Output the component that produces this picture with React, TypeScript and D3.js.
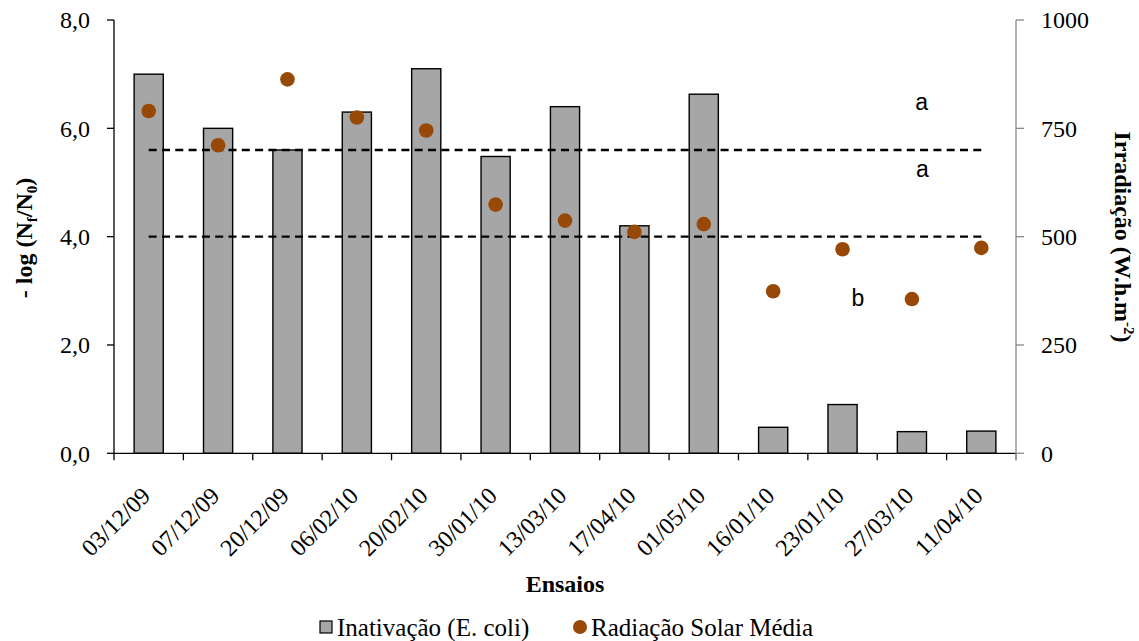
import React from 'react';
import * as d3 from 'd3';

// Trial dates (x categories)
const categories = [
  '03/12/09', '07/12/09', '20/12/09', '06/02/10', '20/02/10', '30/01/10', '13/03/10',
  '17/04/10', '01/05/10', '16/01/10', '23/01/10', '27/03/10', '11/04/10',
];
// E. coli inactivation, -log(Nf/N0)
const inactivation = [7.0, 6.0, 5.6, 6.3, 7.1, 5.48, 6.4, 4.2, 6.63, 0.48, 0.9, 0.4, 0.41];
// Mean solar irradiation, W.h.m-2
const radiation = [790, 711, 863, 775, 745, 574, 537, 511, 529, 374, 471, 356, 474];

const leftTicks = [0, 2, 4, 6, 8];
const rightTicks = [0, 250, 500, 750, 1000];

// Group boundaries (dashed lines, left-axis units) and group letters
const groupLimits = [5.6, 4.0];
const groupLetters = ['a', 'a', 'b'];
const groupLetterIndex = [11.14, 11.15, 10.22];
const groupLetterLevel = [6.34, 5.1, 2.72];

const W = 1139;
const H = 641;
const M = { left: 114, right: 1016, top: 20, bottom: 453.3 };

const serifStyle = { fontFamily: "'Liberation Serif', 'DejaVu Serif', 'Times New Roman', serif" };
const sansStyle = { fontFamily: "'Liberation Sans', Arial, sans-serif" };
const BAR = '#a6a6a6';
const DOT = '#984807';
const GREY_AXIS = '#898989';

const comma = d3.formatLocale({ decimal: ',', thousands: '.', grouping: [3], currency: ['', ''] }).format('.1f');

export default function App() {
  const x = d3.scaleBand<string>().domain(categories).range([M.left, M.right]).paddingInner(0.58).paddingOuter(0.29);
  const step = x.step();
  const center = (i: number) => M.left + (i + 0.5) * step;
  const yL = d3.scaleLinear().domain([0, 8]).range([M.bottom, M.top]);
  const yR = d3.scaleLinear().domain([0, 1000]).range([M.bottom, M.top]);

  const boundaries = d3.range(categories.length + 1).map((i) => M.left + i * step);
  const dashX0 = center(0);
  const dashX1 = center(categories.length - 1);

  return (
    <svg width={W} height={H} style={{ position: 'absolute', left: 0, top: 0, background: '#fff' }}>
      {/* bars */}
      {categories.map((c, i) => (
        <rect
          key={c}
          x={x(c)}
          y={yL(inactivation[i])}
          width={x.bandwidth()}
          height={yL(0) - yL(inactivation[i])}
          fill={BAR}
          stroke="#000"
          strokeWidth={1.4}
        />
      ))}

      {/* group limit lines */}
      {groupLimits.map((v) => (
        <line key={v} x1={dashX0} x2={dashX1} y1={yL(v)} y2={yL(v)} stroke="#000" strokeWidth={2.4} strokeDasharray="8 5.3" />
      ))}

      {/* radiation points */}
      {categories.map((c, i) => (
        <circle key={c} cx={center(i)} cy={yR(radiation[i])} r={7.3} fill={DOT} />
      ))}

      {/* group letters */}
      {groupLetters.map((t, i) => (
        <text key={i} x={center(groupLetterIndex[i])} y={yL(groupLetterLevel[i])} textAnchor="middle" style={sansStyle} fontSize={23} fill="#000">
          {t}
        </text>
      ))}

      {/* left axis */}
      <line x1={M.left} x2={M.left} y1={M.top} y2={M.bottom} stroke="#000" strokeWidth={1.3} />
      {leftTicks.map((t) => (
        <g key={t}>
          <line x1={M.left - 7} x2={M.left} y1={yL(t)} y2={yL(t)} stroke="#000" strokeWidth={1.3} />
          <text x={M.left - 24} y={yL(t)} dy="0.35em" textAnchor="end" style={serifStyle} fontSize={24} fill="#000">
            {comma(t)}
          </text>
        </g>
      ))}

      {/* bottom axis */}
      <line x1={M.left} x2={M.right} y1={M.bottom} y2={M.bottom} stroke="#000" strokeWidth={1.3} />
      {boundaries.map((bx, i) => (
        <line key={i} x1={bx} x2={bx} y1={M.bottom} y2={M.bottom + 7} stroke={i === categories.length ? GREY_AXIS : '#000'} strokeWidth={1.3} />
      ))}
      {categories.map((c, i) => (
        <text
          key={c}
          transform={`translate(${center(i) - 3},${M.bottom + 38}) rotate(-45)`}
          textAnchor="end"
          dy="0.35em"
          style={serifStyle}
          fontSize={24}
          fill="#000"
        >
          {c}
        </text>
      ))}

      {/* right axis */}
      <line x1={M.right} x2={M.right} y1={M.top} y2={M.bottom + 7} stroke={GREY_AXIS} strokeWidth={1.3} />
      {rightTicks.map((t) => (
        <g key={t}>
          <line x1={M.right} x2={M.right + 8} y1={yR(t)} y2={yR(t)} stroke={GREY_AXIS} strokeWidth={1.3} />
          <text x={M.right + 25} y={yR(t)} dy="0.35em" textAnchor="start" style={serifStyle} fontSize={24} fill="#000">
            {t}
          </text>
        </g>
      ))}

      {/* axis titles */}
      <text x={(M.left + M.right) / 2} y={592} textAnchor="middle" style={serifStyle} fontSize={24} fontWeight="bold">
        Ensaios
      </text>
      <text transform="translate(32,238) rotate(-90)" textAnchor="middle" style={serifStyle} fontSize={24} fontWeight="bold">
        - log (N
        <tspan fontSize={15} dy={5}>f</tspan>
        <tspan dy={-5}>/N</tspan>
        <tspan fontSize={15} dy={5}>0</tspan>
        <tspan dy={-5}>)</tspan>
      </text>
      <text transform="translate(1115,237) rotate(90)" textAnchor="middle" style={serifStyle} fontSize={24} fontWeight="bold">
        Irradiação (W.h.m
        <tspan fontSize={15} dy={-9}>-2</tspan>
        <tspan dy={9}>)</tspan>
      </text>

      {/* legend */}
      <rect x={320} y={621} width={12} height={12} fill={BAR} stroke="#000" strokeWidth={1.2} />
      <text x={337} y={636} style={serifStyle} fontSize={25} fill="#000">
        Inativação (E. coli)
      </text>
      <circle cx={580} cy={627} r={7} fill={DOT} />
      <text x={591} y={636} style={serifStyle} fontSize={25} fill="#000">
        Radiação Solar Média
      </text>
    </svg>
  );
}
